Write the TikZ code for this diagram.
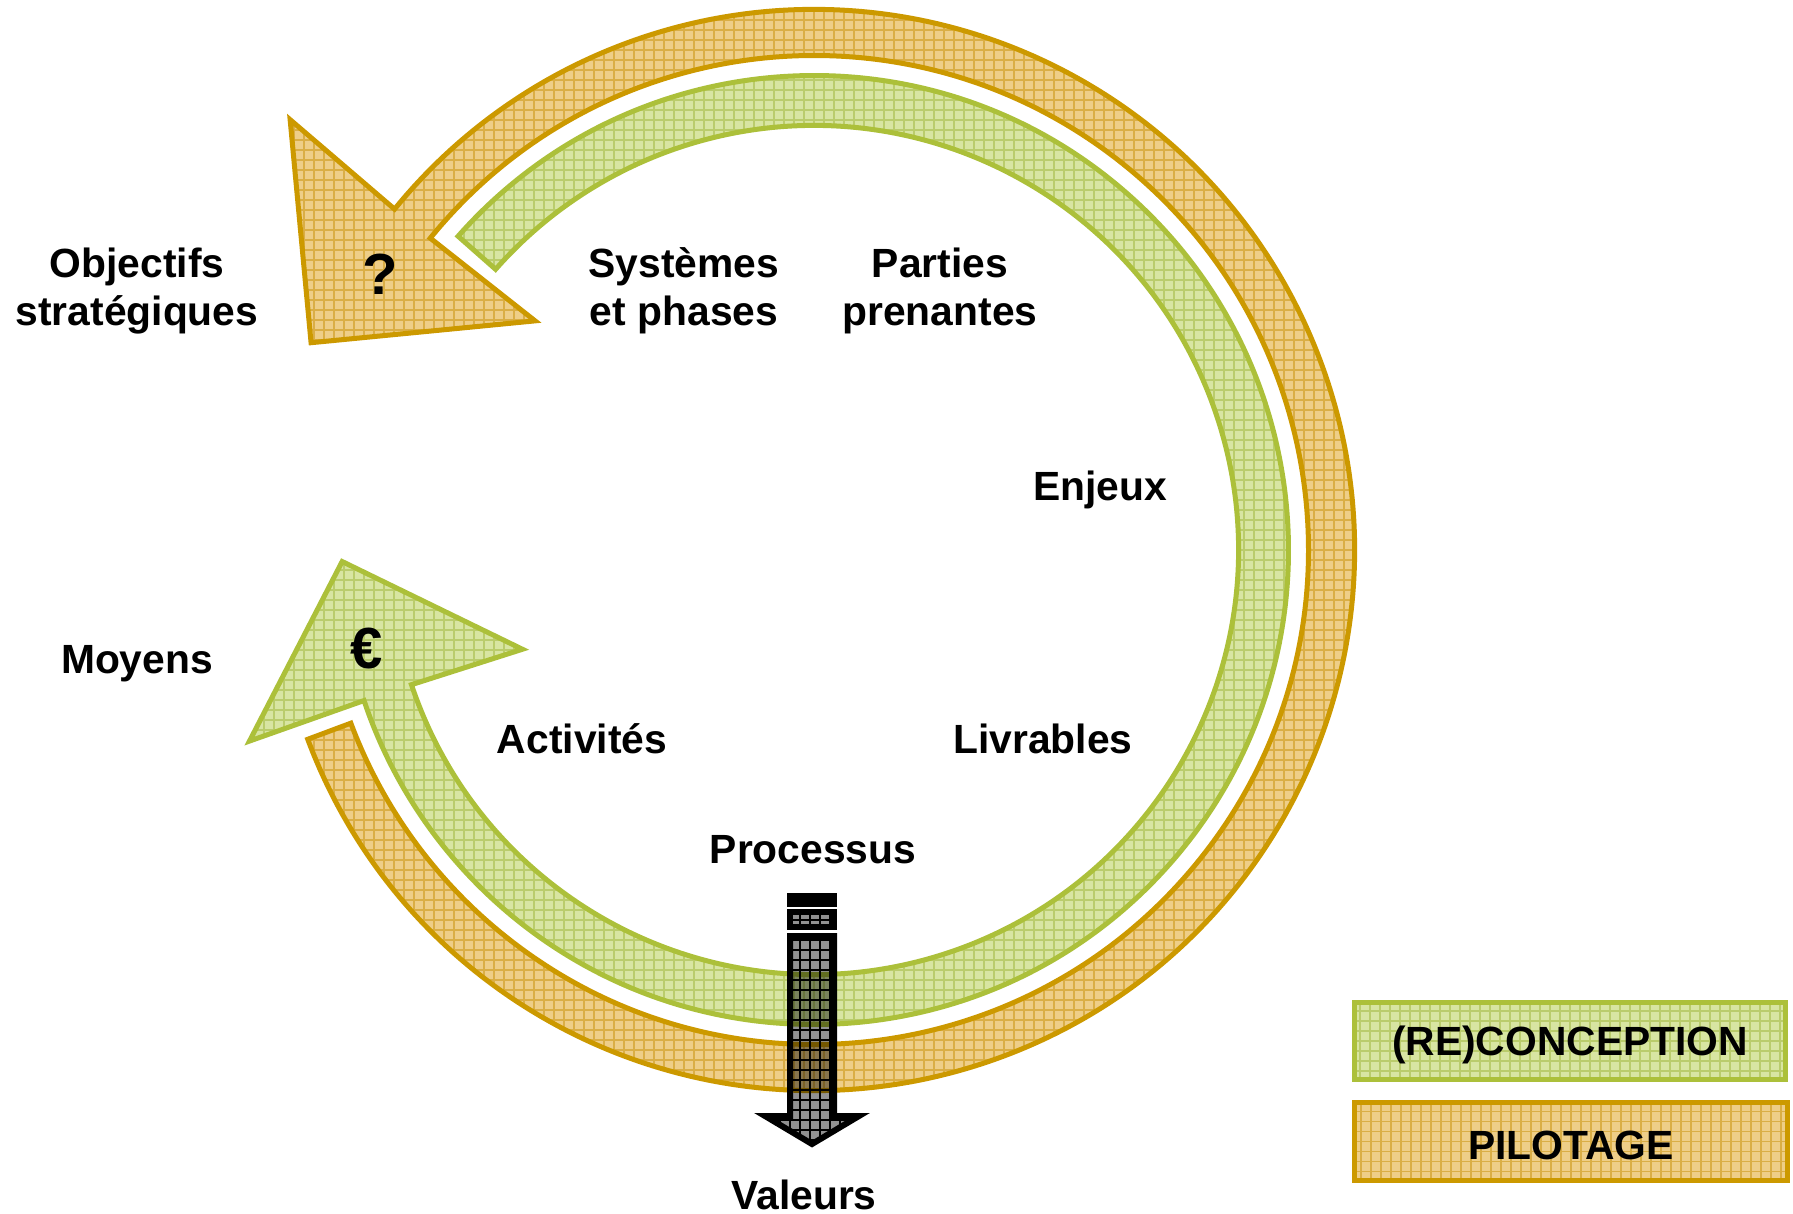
\documentclass[tikz,border=0pt]{standalone}
\usepackage{fontspec}
\setmainfont{Liberation Sans}
\definecolor{oBorder}{RGB}{204,153,0}
\definecolor{oFill}{RGB}{238,206,136}
\definecolor{oGrid}{RGB}{218,174,70}
\definecolor{gBorder}{RGB}{172,192,58}
\definecolor{gFill}{RGB}{216,229,162}
\definecolor{gGrid}{RGB}{186,204,108}
\definecolor{aFill}{RGB}{145,145,145}
\begin{document}
\begin{tikzpicture}[x=0.5pt,y=-0.5pt,
  lab/.style={font=\fontsize{20.4}{24}\selectfont\bfseries, align=center, inner sep=0pt, text=black},
  sym/.style={font=\fontsize{29}{30}\selectfont\bfseries, inner sep=0pt},
  bord/.style={line width=2.5pt, line join=miter, miter limit=20},
  gridO/.style={draw=oGrid, line width=0.55pt, step=5pt},
  gridG/.style={draw=gGrid, line width=0.55pt, step=5pt},
  gridA/.style={draw=black, line width=0.6pt, step=5pt},
  legbox/.style={bord, minimum width=215.5pt, minimum height=38.5pt, inner sep=0pt},
]
\useasboundingbox (0,0) rectangle (1793,1214);

\def\opath{(159.5:540.5) arc[start angle=159.5,end angle=-140.9,radius=540.5] -- (-140.6:678) -- (-157.6:544) -- (-140.6:361) -- (-140.9:494.5) arc[start angle=-140.9,end angle=159.5,radius=494.5] -- cycle}
\def\gpath{(-138.6:474.5) arc[start angle=-138.6,end angle=161.5,radius=474.5] -- (161.3:596) -- (178.6:472) -- (161.2:308) -- (161.5:424.5) arc[start angle=161.5,end angle=-138.6,radius=424.5] -- cycle}

\begin{scope}[shift={(814,550)}]
  % PILOTAGE band
  \fill[oFill] \opath;
  \begin{scope}
    \clip \opath;
    \draw[gridO] (-814,664) grid (979,-550);
  \end{scope}
  \draw[bord, draw=oBorder] \opath;
  % (RE)CONCEPTION band
  \fill[gFill] \gpath;
  \begin{scope}
    \clip \gpath;
    \draw[gridG] (-814,664) grid (979,-550);
  \end{scope}
  \draw[bord, draw=gBorder] \gpath;
\end{scope}

% grey arrow
\def\shaft{(790,936) -- (834,936) -- (834,1116) -- (859,1116) -- (812,1144) -- (765,1116) -- (790,1116) -- cycle}
\def\barA{(790,896) rectangle (834,904)}
\def\barB{(790,912) rectangle (834,927)}
\begin{scope}[blend mode=multiply]
  \fill[aFill] \shaft;
  \fill[aFill] \barA;
  \fill[aFill] \barB;
\end{scope}
\begin{scope}
  \clip \shaft \barA \barB;
  \draw[gridA] (700,1214) grid (900,850);
\end{scope}
\draw[line width=3pt, line join=miter, draw=black] \shaft;
\draw[line width=3pt, draw=black] \barA;
\draw[line width=3pt, draw=black] \barB;

% symbols
\node[sym] (q) at (380,274) {?};
\node[sym] (euro) at (367,649) {€};

% labels
\node[lab] (obj) at (137,291) {Objectifs\\stratégiques};
\node[lab] (sys) at (684,291) {Systèmes\\et phases};
\node[lab] (part) at (940,291) {Parties\\prenantes};
\node[lab] (enj) at (1100,490) {Enjeux};
\node[lab] (moy) at (137,664) {Moyens};
\node[lab] (act) at (582,739) {Activités};
\node[lab] (liv) at (1043,739) {Livrables};
\node[lab] (proc) at (813,850) {Processus};
\node[lab, anchor=base] (val) at (804,1209) {Valeurs};

% legend
\node[legbox, draw=gBorder, fill=gFill,
  path picture={\draw[gridG] (path picture bounding box.south west) grid (path picture bounding box.north east);}]
  (lgreen) at (1570,1041) {};
\node[legbox, draw=oBorder, fill=oFill, minimum width=216.5pt, minimum height=39pt,
  path picture={\draw[gridO] (path picture bounding box.south west) grid (path picture bounding box.north east);}]
  (lorange) at (1571,1141.5) {};
\node[lab] (tgreen) at (1570,1045) {(RE)CONCEPTION};
\node[lab] (torange) at (1571,1145) {PILOTAGE};
\end{tikzpicture}
\end{document}
